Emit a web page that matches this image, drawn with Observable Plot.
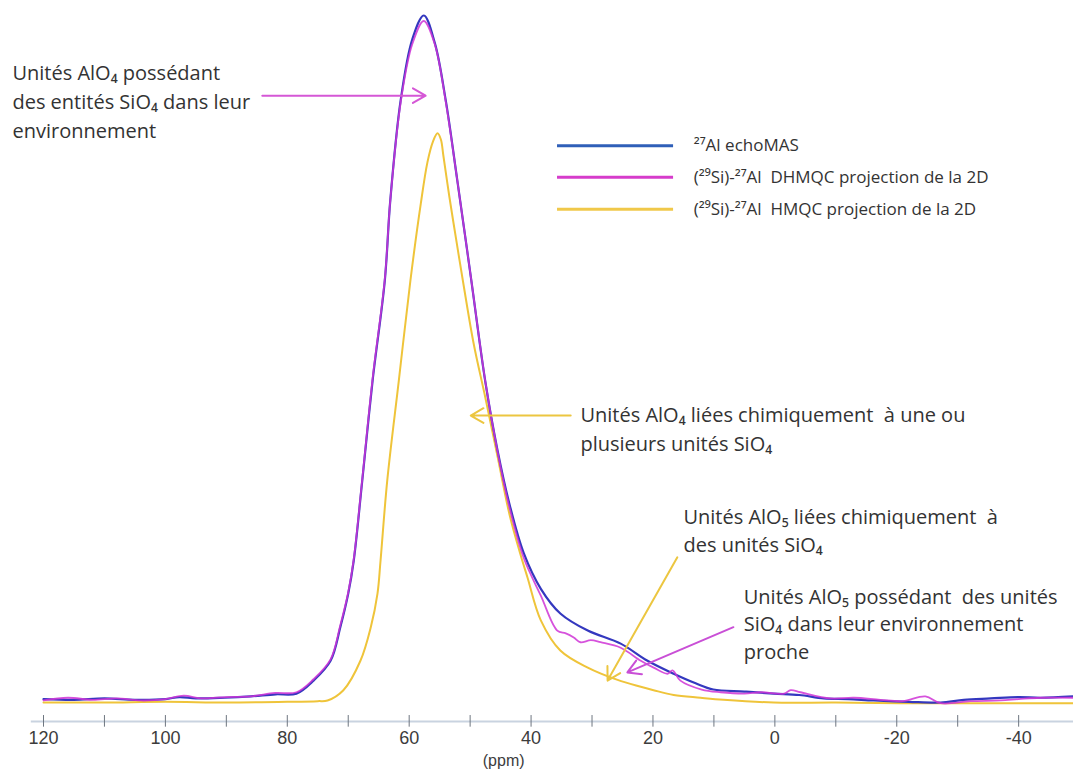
<!DOCTYPE html>
<html><head><meta charset="utf-8">
<script src="https://cdn.jsdelivr.net/npm/d3@7"></script>
<script src="https://cdn.jsdelivr.net/npm/@observablehq/plot@0.6"></script>
<style>body{margin:0;background:#fff} #chart svg{display:block}</style>
</head><body><div id="chart"></div>
<script>
// 27Al echoMAS
const echoPpm = [120,115,110,105,100,97.7,95,90.3,86,81.9,78.5,75.7,72.9,71.3,70.0,69.1,67.7,66.0,64.0,63.1,61.4,59.5,57.6,55.8,54.0,52.1,49.8,47.5,45.5,43.5,41.2,38.4,35.2,30.7,25.3,20.9,16.6,13,10.1,5,0.2,-4,-8,-12,-16.2,-22,-27.2,-31,-35.4,-40,-43.6,-49];
const echoI   = [0.2,0.1,0.3,0.1,0.2,0.5,0.3,0.4,0.6,0.9,1.0,2.9,5.8,10.7,15.6,20.4,32.1,46.7,61.3,73.0,87.6,96.5,100,96,87.6,75.9,61.3,46.5,36.5,28.5,21.5,16.3,12.7,10.2,8.3,5.8,3.9,2.5,1.6,1.3,1.0,0.8,0.3,0.2,0.0,-0.2,-0.3,0.1,0.3,0.5,0.4,0.6];
// (29Si)-27Al DHMQC projection
const dhmqcPpm = [120,116,112,108,104,100,97,94,90,86,82,78.5,75.7,72.9,71.3,70.0,69.1,67.7,66.0,64.0,63.1,61.4,59.5,57.6,55.8,54.0,52.1,49.8,47.5,45.5,43.5,41.2,38.4,35.7,34.3,33.0,31.9,30.2,28.6,25.3,22.0,19.9,17.6,16.8,15.5,12,8.9,5,2.3,-1.5,-2.6,-4.2,-9.1,-13,-17.3,-21,-24.7,-27.2,-32.1,-37.0,-40,-43.6,-49];
const dhmqcI   = [0.0,0.4,0.1,0.3,0.0,0.2,0.7,0.3,0.5,0.6,1.1,1.2,3.1,6.0,11.0,15.8,20.6,32.3,47.0,61.5,73.0,87.3,95.8,99.2,95.8,87.4,75.9,61.3,46.5,36.3,28.0,20.8,15.3,10.2,9.8,9.2,8.5,8.8,8.5,7.7,5.8,4.8,3.9,4.4,2.9,1.6,1.2,1.0,1.2,1.0,1.5,1.2,0.3,0.4,0.1,-0.1,0.6,-0.4,-0.1,0.0,0.2,0.4,0.4];
// (29Si)-27Al HMQC projection
const hmqcPpm = [120,110,100,90,80,75,73.4,70.8,68.0,66.3,65.2,64.7,63.6,61.7,59.8,58.1,57.0,56.1,55.35,54.8,54.4,53.4,52.2,51.1,49.4,47.5,45.5,43.5,41.8,40.6,38.4,35.2,30.7,25.8,22.0,19.9,16.6,12.2,8.4,0.2,-10,-20.6,-35,-49];
const hmqcI   = [-0.3,-0.3,-0.2,-0.3,-0.2,-0.1,0.0,1.5,5.8,10.7,15.6,20.4,32.1,46.7,61.3,72.5,78.6,81.6,82.8,81.9,79.6,73.5,66.8,60.8,52.0,44.2,35.6,27.0,21.5,18.0,11.7,7.3,4.8,3.0,2.0,1.5,0.8,0.4,0.1,-0.3,-0.3,-0.4,-0.4,-0.4];

const seriesNames = ["²⁷Al echoMAS", "(²⁹Si)-²⁷Al  DHMQC projection de la 2D", "(²⁹Si)-²⁷Al  HMQC projection de la 2D"];
const seriesColors = ["#3438bf", "#cf34d6", "#efc43a"];
const legendColors = ["#2f5fb8", "#d63ccb", "#f0c84a"];
const legendY = [81.0, 76.4, 71.7];

const tickValues = d3.range(120, -41, -10);
const labelValues = d3.range(120, -41, -20);
const axisTitle = "(ppm)";

// annotation text lines
const noteText = [
  "Unités AlO₄ possédant", "des entités SiO₄ dans leur", "environnement",
  "Unités AlO₄ liées chimiquement  à une ou", "plusieurs unités SiO₄",
  "Unités AlO₅ liées chimiquement  à", "des unités SiO₄",
  "Unités AlO₅ possédant  des unités", "SiO₄ dans leur environnement", "proche"
];
const notePpm = [125.1,125.1,125.1, 31.9,31.9, 15.0,15.0, 5.1,5.1,5.1];
const noteI   = [91.5,87.3,83.1, 41.6,37.4, 26.7,22.6, 15.0,11.1,7.0];

// arrows: from (ppm1,I1) to (ppm2,I2)
const arrowFromPpm = [84.1, 33.5, 16.0, 6.8];
const arrowFromI   = [88.3, 41.6, 20.9, 10.7];
const arrowToPpm   = [57.3, 49.9, 27.45, 24.2];
const arrowToI     = [88.3, 41.6, 2.9, 4.1];
const arrowColors  = ["#d557d6", "#ecc640", "#ecc640", "#c94fd6"];

const rows = (p, v, s) => p.map((x, i) => ({ppm: x, I: v[i], s}));
const echo = rows(echoPpm, echoI, seriesNames[0]);
const dhmqc = rows(dhmqcPpm, dhmqcI, seriesNames[1]);
const hmqc = rows(hmqcPpm, hmqcI, seriesNames[2]);
const notes = noteText.map((t, i) => ({t, ppm: notePpm[i], I: noteI[i]}));
const arrows = arrowFromPpm.map((d, i) => ({x1: d, y1: arrowFromI[i], x2: arrowToPpm[i], y2: arrowToI[i], c: arrowColors[i]}));
const legend = seriesNames.map((n, i) => ({n, y: legendY[i], c: legendColors[i]}));

const font = "'Open Sans', sans-serif";
const chart = Plot.plot({
  width: 1073, height: 769,
  marginLeft: 43, marginRight: 0, marginTop: 0, marginBottom: 48,
  x: {domain: [120, -49], axis: null},
  y: {domain: [-3.07, 102.19], axis: null},
  style: {background: "#fff"},
  marks: [
    Plot.ruleY([-3.07], {x1: 122, x2: -49, stroke: "#c9d3e0", strokeWidth: 2}),
    Plot.ruleX(tickValues, {x: d => d, y1: -3.9, y2: -2.2, stroke: "#6e7680", strokeWidth: 1}),
    Plot.text(labelValues, {x: d => d, y: -5.5, text: d => String(d), fontSize: 18, fill: "#3c3c3c", fontFamily: "'Liberation Sans', sans-serif"}),
    Plot.text([axisTitle], {x: 44.5, y: -8.8, text: d => d, fontSize: 16, fill: "#3c3c3c", fontFamily: "'Liberation Sans', sans-serif"}),
    Plot.line(hmqc, {x: "ppm", y: "I", stroke: seriesColors[2], strokeWidth: 2, curve: "catmull-rom"}),
    Plot.line(echo, {x: "ppm", y: "I", stroke: seriesColors[0], strokeWidth: 2.2, curve: "catmull-rom"}),
    Plot.line(dhmqc, {x: "ppm", y: "I", stroke: seriesColors[1], strokeWidth: 1.8, strokeOpacity: 0.85, curve: "catmull-rom"}),
    Plot.arrow(arrows, {x1: "x1", y1: "y1", x2: "x2", y2: "y2", stroke: "c", strokeWidth: 2, headLength: 11}),
    Plot.ruleY(legend, {y: "y", x1: 35.66, x2: 16.62, stroke: "c", strokeWidth: 3}),
    Plot.text(legend, {x: 13.3, y: "y", text: "n", textAnchor: "start", fontSize: 17, fill: "#333", fontFamily: font}),
    Plot.text(notes, {x: "ppm", y: "I", text: "t", textAnchor: "start", fontSize: 20, fill: "#333", fontFamily: font})
  ]
});
document.getElementById("chart").appendChild(chart);
</script>
</body></html>
